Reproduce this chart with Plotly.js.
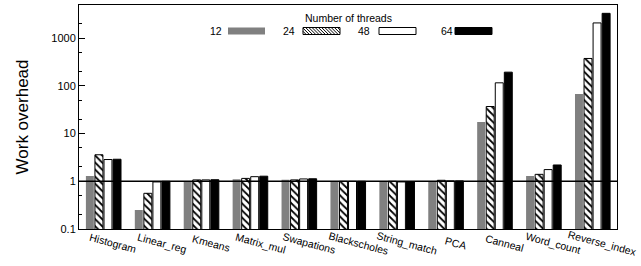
<!DOCTYPE html>
<html>
<head>
<meta charset="utf-8">
<script src="https://cdn.plot.ly/plotly-3.0.1.min.js"></script>
<style>html,body{margin:0;padding:0;background:#fff;}#chart{width:641px;height:266px;}</style>
</head>
<body>
<div id="chart"></div>
<script>
const categories = ["Histogram","Linear_reg","Kmeans","Matrix_mul","Swapations","Blackscholes","String_match","PCA","Canneal","Word_count","Reverse_index"];
const threadLabels = ["12","24","48","64"];
const t12 = [1.29, 0.25, 1.0, 1.1, 1.08, 1.0, 1.0, 1.0, 17.5, 1.29, 68];
const t24 = [3.6, 0.56, 1.07, 1.15, 1.07, 1.0, 1.0, 1.05, 37, 1.4, 376];
const t48 = [2.86, 0.97, 1.07, 1.25, 1.12, 1.0, 0.97, 1.02, 116, 1.76, 2090];
const t64 = [2.9, 1.0, 1.08, 1.28, 1.13, 1.0, 0.97, 1.02, 194, 2.2, 3320];

const FONT = "Liberation Sans, Arial, Helvetica, sans-serif";
const series = [t12, t24, t48, t64];
const markers = [
  {color: "#808080", line: {width: 0}},
  {color: "#ffffff", line: {color: "#000", width: 1}, pattern: {shape: "\\", fgcolor: "#000", bgcolor: "#fff", size: 5, solidity: 0.35}},
  {color: "#ffffff", line: {color: "#000", width: 1}},
  {color: "#000000", line: {color: "#000", width: 1}}
];
const traces = series.map((vals, i) => ({
  type: "bar", x: categories, y: vals, name: threadLabels[i],
  marker: markers[i], showlegend: false, hoverinfo: "skip"
}));

// plot area geometry (pixels) for custom legend
const L = 79, R = 24, T = 5, B = 37, W = 641, H = 266;
const pw = W - L - R, ph = H - T - B;
const px = x => (x - L) / pw;
const py = y => (H - B - y) / ph;

const legendItems = [
  {label: threadLabels[0], lx: 216, sx: 228},
  {label: threadLabels[1], lx: 289, sx: 303},
  {label: threadLabels[2], lx: 364, sx: 379},
  {label: threadLabels[3], lx: 447, sx: 455}
];
const swW = 37, swH = 7, swY = 27.5;
const shapes = [{
  type: "line", xref: "paper", yref: "y", x0: 0, x1: 1, y0: 1, y1: 1,
  line: {color: "#000", width: 1.5}
}];
const annotations = [{
  xref: "paper", yref: "paper", x: px(348), y: py(18), text: "Number of threads",
  showarrow: false, font: {family: FONT, size: 10.5, color: "#000"}, xanchor: "center", yanchor: "middle"
}];
// rotated category labels, positioned through the x axis scale
categories.forEach(c => {
  annotations.push({xref: "x", yref: "paper", x: c, y: 0, yshift: -14, xshift: 10,
    text: c, textangle: 15, showarrow: false,
    font: {family: FONT, size: 10.5, color: "#000"}, xanchor: "center", yanchor: "middle"});
});
const fills = ["#808080", "#ffffff", "#ffffff", "#000000"];
legendItems.forEach((it, i) => {
  annotations.push({xref: "paper", yref: "paper", x: px(it.lx), y: py(31), text: it.label,
    showarrow: false, font: {family: FONT, size: 10.5, color: "#000"}, xanchor: "center", yanchor: "middle"});
  shapes.push({type: "rect", xref: "paper", yref: "paper",
    x0: px(it.sx), x1: px(it.sx + swW), y0: py(swY + swH), y1: py(swY),
    fillcolor: fills[i], line: {color: i === 0 ? "#808080" : "#000", width: i === 0 ? 0 : 1}});
  if (i === 1) {
    let d = "";
    for (let k = -swH; k < swW; k += 3.2) {
      let xa = it.sx + k, ya = swY, xb = it.sx + k + swH, yb = swY + swH;
      if (xa < it.sx) { ya += (it.sx - xa); xa = it.sx; }
      if (xb > it.sx + swW) { yb -= (xb - (it.sx + swW)); xb = it.sx + swW; }
      if (yb <= ya) continue;
      d += `M${px(xa)},${py(ya)}L${px(xb)},${py(yb)}`;
    }
    shapes.push({type: "path", xref: "paper", yref: "paper", path: d, line: {color: "#000", width: 1}});
  }
});

const layout = {
  width: W, height: H,
  margin: {l: L, r: R, t: T, b: B, pad: 0},
  paper_bgcolor: "#fff", plot_bgcolor: "#fff",
  font: {family: FONT, color: "#000"},
  barmode: "group", bargap: 0.26, bargroupgap: 0.12,
  showlegend: false,
  xaxis: {
    type: "category", range: [-0.5, 10.5],
    showline: true, mirror: true, linecolor: "#000", linewidth: 1,
    showgrid: false, ticks: "", showticklabels: false
  },
  yaxis: {
    type: "log", range: [-1, 3.696], dtick: 1,
    tickvals: [0.1, 1, 10, 100, 1000], ticktext: ["0.1", "1", "10", "100", "1000"],
    showline: true, mirror: true, linecolor: "#000", linewidth: 1,
    showgrid: false, zeroline: false, ticks: "inside", ticklen: 6, tickcolor: "#000", tickwidth: 1,
    minor: {tickvals: [0.2, 0.5, 2, 5, 20, 50, 200, 500, 2000, 5000], ticks: "inside", ticklen: 3, tickcolor: "#000", showgrid: false},
    tickfont: {family: FONT, size: 11, color: "#000"},
    title: {text: "Work overhead", font: {family: FONT, size: 17, color: "#000"}, standoff: 18}
  },
  shapes: shapes,
  annotations: annotations
};
Plotly.newPlot("chart", traces, layout, {displayModeBar: false, staticPlot: true});
</script>
</body>
</html>
